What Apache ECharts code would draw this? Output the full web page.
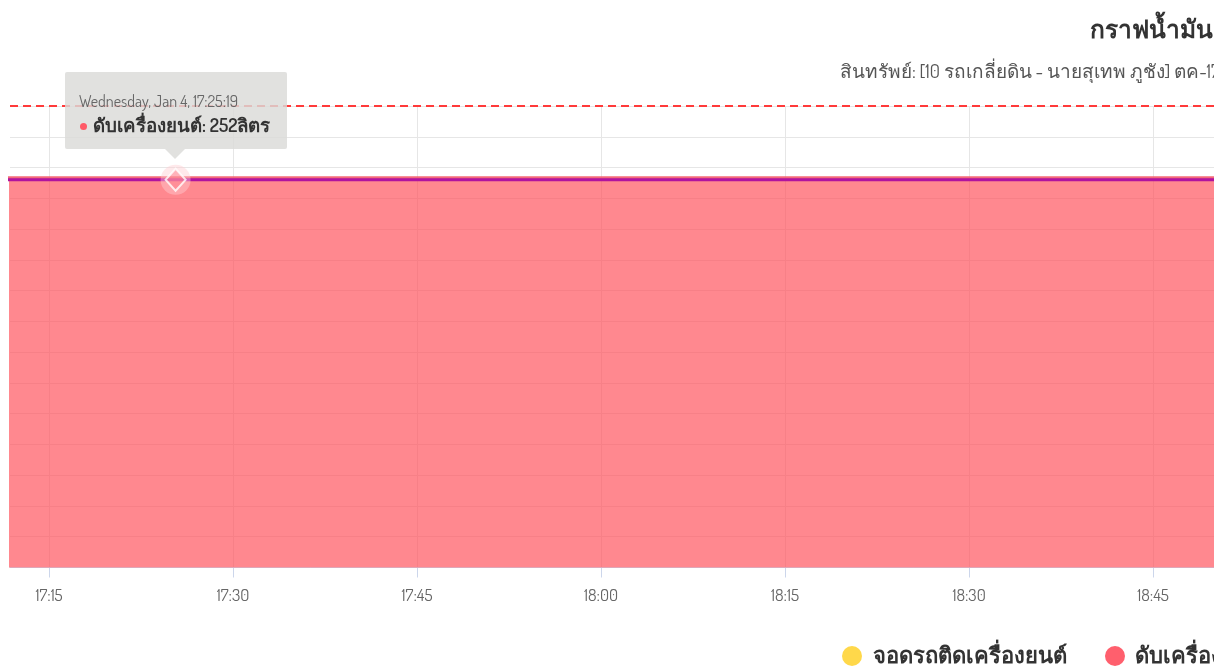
<!DOCTYPE html>
<html>
<head>
<meta charset="utf-8">
<script src="https://cdn.jsdelivr.net/npm/echarts@6/dist/echarts.min.js"></script>
<style>
  html, body { margin: 0; padding: 0; background: #fff; }
  #wrap { width: 1226px; height: 670px; background: #fff; overflow: hidden; }
  #chart { width: 1214px; height: 670px; }
</style>
</head>
<body>
<div id="wrap"><div id="chart"></div></div>
<script>
// ---- data ----
const titleText = 'กราฟน้ำมัน';
const subtitleText = 'สินทรัพย์: [10 รถเกลี่ยดิน - นายสุเทพ ภูชัง] ตค-17';
const seriesNames = ['จอดรถติดเครื่องยนต์', 'ดับเครื่องยนต์', 'น้ำมัน'];
const times = [
  '2017-01-04 17:05:19', '2017-01-04 17:25:19', '2017-01-04 17:45:19',
  '2017-01-04 18:05:19', '2017-01-04 18:25:19', '2017-01-04 18:45:19',
  '2017-01-04 18:55:19'
];
const engineOffLitres = [252, 252, 252, 252, 252, 252, 252];
const fuelLitres = [252, 252, 252, 252, 252, 252, 252];
const idleLitres = [];
const tankCapacity = 300;
const xMin = '2017-01-04 17:11:49';
const xMax = '2017-01-04 18:49:58';
const tickTimes = [
  '2017-01-04 17:15:00', '2017-01-04 17:30:00', '2017-01-04 17:45:00',
  '2017-01-04 18:00:00', '2017-01-04 18:15:00', '2017-01-04 18:30:00',
  '2017-01-04 18:45:00'
];
const hoverIndex = 1;
const unit = 'ลิตร';

const FONT = "Dosis, 'DejaVu Sans Condensed', 'Liberation Sans Narrow', 'Noto Sans', sans-serif";
const days = ['Sunday','Monday','Tuesday','Wednesday','Thursday','Friday','Saturday'];
const months = ['Jan','Feb','Mar','Apr','May','Jun','Jul','Aug','Sep','Oct','Nov','Dec'];
function pad(n){ return (n < 10 ? '0' : '') + n; }
function fmtDate(v){
  const d = new Date(v);
  return days[d.getDay()] + ', ' + months[d.getMonth()] + ' ' + d.getDate() + ', ' +
    pad(d.getHours()) + ':' + pad(d.getMinutes()) + ':' + pad(d.getSeconds());
}
function fmtHM(v){ const d = new Date(v); return pad(d.getHours()) + ':' + pad(d.getMinutes()); }
function toTs(s){ return echarts.time.parse(s).getTime(); }

const offData = times.map((t, i) => [toTs(t), engineOffLitres[i]]);
const fuelData = times.map((t, i) => [toTs(t), fuelLitres[i]]);
const idleData = idleLitres.map((v, i) => [toTs(times[i]), v]);
const hoverData = [[toTs(times[hoverIndex]), engineOffLitres[hoverIndex]]];
const tickValues = tickTimes.map(toTs);

const chart = echarts.init(document.getElementById('chart'), null, { renderer: 'canvas' });

const option = {
  animation: false,
  backgroundColor: '#fff',
  textStyle: { fontFamily: FONT },
  title: [
    { text: titleText, left: 1085, top: 13,
      textStyle: { fontFamily: FONT, fontSize: 24.5, fontWeight: 'bold', color: '#333' } },
    { text: subtitleText, left: 835, top: 58,
      textStyle: { fontFamily: FONT, fontSize: 19, fontWeight: 'normal', color: '#555' } }
  ],
  legend: [
    { data: [seriesNames[0]], left: 837, top: 640, icon: 'circle', itemWidth: 20, itemHeight: 20,
      textStyle: { fontFamily: FONT, fontSize: 22, fontWeight: 'bold', color: '#333', padding: [0, 0, 0, 6] } },
    { data: [seriesNames[1]], left: 1100, top: 640, icon: 'circle', itemWidth: 20, itemHeight: 20,
      textStyle: { fontFamily: FONT, fontSize: 22, fontWeight: 'bold', color: '#333', padding: [0, 0, 0, 5] } }
  ],
  grid: { left: 10, right: 0, top: 106, bottom: 102.5, containLabel: false },
  tooltip: {
    trigger: 'item',
    triggerOn: 'none',
    alwaysShowContent: true,
    showDelay: 0,
    transitionDuration: 0,
    backgroundColor: 'rgba(218,218,216,0.82)',
    borderWidth: 0,
    padding: [19, 17, 10, 14],
    extraCssText: 'box-shadow:none;border-radius:2px;overflow:visible;',
    position: function (point, params, dom, rect, size) {
      const p = chart.convertToPixel({ seriesIndex: 1 }, params.value);
      const w = size.contentSize[0], h = size.contentSize[1];
      return [p[0] - w / 2 + 0.5, p[1] - h - 31];
    },
    formatter: function (params) {
      return '<div style="position:relative;font-family:' + FONT.replace(/"/g, '') + ';">' +
        '<div style="font-size:16px;color:#666;line-height:20px;">' + fmtDate(params.value[0]) + '</div>' +
        '<div style="font-size:18.7px;color:#333;line-height:28px;font-weight:600;">' +
        '<span style="display:inline-block;width:7px;height:7px;border-radius:50%;background:#ff5a67;margin:0 6px 3px 1px;vertical-align:middle;"></span>' +
        seriesNames[1] + ': ' + params.value[1] + unit + '</div>' +
        '<div style="position:absolute;left:50%;bottom:-20px;margin-left:-10px;width:0;height:0;' +
        'border-left:10px solid transparent;border-right:10px solid transparent;border-top:10px solid rgba(218,218,216,0.82);"></div>' +
        '</div>';
    }
  },
  xAxis: {
    type: 'value',
    min: toTs(xMin),
    max: toTs(xMax),
    axisLine: { show: true, lineStyle: { color: '#ccd6eb', width: 1 } },
    axisTick: { show: true, length: 10, lineStyle: { color: '#ccd6eb' }, customValues: tickValues },
    axisLabel: {
      customValues: tickValues,
      formatter: function (v) { return fmtHM(v); },
      color: '#666', fontFamily: FONT, fontSize: 17, margin: 20
    },
    splitLine: { show: true, lineStyle: { color: '#e6e6e6', width: 1 } }
  },
  yAxis: {
    type: 'value',
    min: 0,
    max: 300,
    interval: 20,
    axisLine: { show: false },
    axisTick: { show: false },
    axisLabel: { show: false },
    splitLine: { show: true, lineStyle: { color: '#e6e6e6', width: 1 } }
  },
  series: [
    {
      name: seriesNames[0], type: 'line', data: idleData, color: '#ffd84a',
      showSymbol: false, lineStyle: { color: '#ffd84a', width: 1 },
      areaStyle: { color: 'rgba(255,216,74,0.6)' }, tooltip: { show: false }
    },
    {
      name: seriesNames[1], type: 'line', data: offData, color: '#ff5f6d',
      showSymbol: false, symbol: 'none', clip: true,
      lineStyle: { color: '#f25a6a', width: 1 },
      areaStyle: { color: 'rgb(255,80,90)', opacity: 0.68 },
      z: 2, tooltip: { show: false },
      markLine: {
        silent: true, symbol: 'none', label: { show: false },
        lineStyle: { color: '#ff3a3a', width: 2, type: [8, 5] },
        data: [{ yAxis: tankCapacity }]
      }
    },
    {
      name: seriesNames[2], type: 'line', data: fuelData, color: '#b0139f',
      showSymbol: false, symbol: 'none', silent: true, clip: true,
      lineStyle: { color: '#b0139f', width: 3, shadowColor: 'rgba(242,90,106,0.9)', shadowBlur: 0, shadowOffsetY: -2 },
      z: 3, tooltip: { show: false }
    },
    {
      name: 'halo', type: 'scatter', data: hoverData, symbol: 'circle', symbolSize: 30,
      itemStyle: { color: 'rgba(255,205,210,0.55)' }, silent: true, z: 4, tooltip: { show: false }
    },
    {
      name: 'marker', type: 'scatter', data: hoverData, symbol: 'diamond', symbolSize: [20, 22],
      itemStyle: { color: 'rgba(255,120,130,0.6)', borderColor: '#fff', borderWidth: 2 },
      z: 5
    }
  ]
};
chart.setOption(option);
function showTip(){ chart.dispatchAction({ type: 'showTip', seriesIndex: 4, dataIndex: 0 }); }
showTip();
chart.on('finished', showTip);
</script>
</body>
</html>
